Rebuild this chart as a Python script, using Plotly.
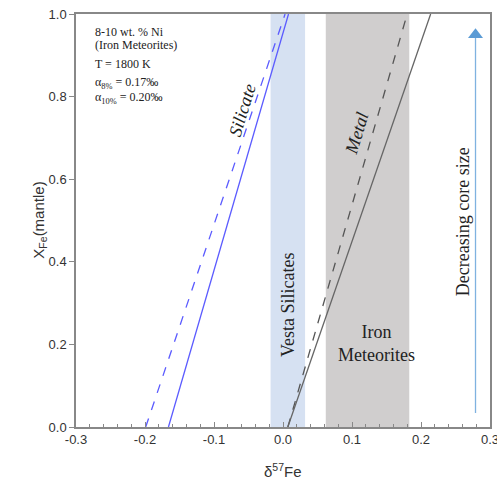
import plotly.graph_objects as go

# Data
y_pts = [0.0, 1.0]
silicate_8 = [-0.199, 0.003]   # dashed blue (x at y=0, y=1)
silicate_10 = [-0.166, 0.008]  # solid blue
metal_8 = [0.007, 0.180]       # dashed dark
metal_10 = [0.007, 0.214]      # solid gray
vesta_band = [-0.018, 0.032]
iron_band = [0.062, 0.183]
arrow_x = [0.279, 0.279]
arrow_y = [0.034, 0.950]
x_ticks = [-0.3, -0.2, -0.1, 0.0, 0.1, 0.2, 0.3]
x_ticklabels = ["-0.3", "-0.2", "-0.1", "0.0", "0.1", "0.2", "0.3"]
y_ticks = [0, 0.2, 0.4, 0.6, 0.8, 1.0]
y_ticklabels = ["0.0", "0.2", "0.4", "0.6", "0.8", "1.0"]
info_lines = ["8-10 wt. % Ni", "(Iron Meteorites)", "T = 1800 K",
              "α<sub>8%</sub> = 0.17‰", "α<sub>10%</sub> = 0.20‰"]
info_y = [0.956, 0.925, 0.879, 0.833, 0.797]

serif = "Liberation Serif, Times New Roman, serif"
sans = "Liberation Sans, Arial, sans-serif"

fig = go.Figure()

# Bands
fig.add_shape(type="rect", xref="x", yref="y", x0=vesta_band[0], x1=vesta_band[1], y0=0, y1=1,
              fillcolor="#d6e1f2", line=dict(width=0), layer="below")
fig.add_shape(type="rect", xref="x", yref="y", x0=iron_band[0], x1=iron_band[1], y0=0, y1=1,
              fillcolor="#d0cece", line=dict(width=0), layer="below")

fig.add_trace(go.Scatter(x=silicate_8, y=y_pts, mode="lines",
                         line=dict(color="#5b5bff", width=1.3, dash="dash"), showlegend=False))
fig.add_trace(go.Scatter(x=silicate_10, y=y_pts, mode="lines",
                         line=dict(color="#5b5bff", width=1.3), showlegend=False))
fig.add_trace(go.Scatter(x=metal_8, y=y_pts, mode="lines",
                         line=dict(color="#555555", width=1.3, dash="dash"), showlegend=False))
fig.add_trace(go.Scatter(x=metal_10, y=y_pts, mode="lines",
                         line=dict(color="#666666", width=1.3), showlegend=False))

# Arrow (line + triangle head)
fig.add_trace(go.Scatter(x=arrow_x, y=arrow_y, mode="lines",
                         line=dict(color="#7fb2e0", width=1.3), showlegend=False))
fig.add_trace(go.Scatter(x=[arrow_x[1]], y=[arrow_y[1]], mode="markers",
                         marker=dict(symbol="triangle-up", size=13, color="#5b9bd5"),
                         showlegend=False))

ann = [
    dict(x=0.261, y=0.496, text="Decreasing core size", textangle=-90),
    dict(x=0.007, y=0.295, text="Vesta Silicates", textangle=-90),
    dict(x=0.136, y=0.203, text="Iron<br>Meteorites", textangle=0),
    dict(x=-0.059, y=0.768, text="<i>Silicate</i>", textangle=-73),
    dict(x=0.107, y=0.712, text="<i>Metal</i>", textangle=-73),
]
for a in ann:
    fig.add_annotation(x=a["x"], y=a["y"], xref="x", yref="y", text=a["text"],
                       textangle=a["textangle"], showarrow=False,
                       xanchor="center", yanchor="middle",
                       font=dict(family=serif, size=18, color="#222222"))

for t, yy in zip(info_lines, info_y):
    fig.add_annotation(x=-0.275, y=yy, xref="x", yref="y", xanchor="left", yanchor="middle",
                       text=t, showarrow=False, align="left",
                       font=dict(family=serif, size=12, color="#222222"))

# Axis titles
fig.add_annotation(x=-0.089, y=0.5, xref="paper", yref="paper", text="X<sub>Fe</sub>(mantle)",
                   textangle=-90, showarrow=False, xanchor="center", yanchor="middle",
                   font=dict(family=sans, size=15, color="#333333"))
fig.add_annotation(x=0.5, y=-0.1065, xref="paper", yref="paper", text="δ<sup>57</sup>Fe",
                   showarrow=False, xanchor="center", yanchor="middle",
                   font=dict(family=sans, size=15, color="#333333"))

fig.update_layout(
    width=497, height=483,
    margin=dict(l=76, r=7, t=14, b=56),
    plot_bgcolor="white", paper_bgcolor="white",
    xaxis=dict(range=[-0.3, 0.3], tickvals=x_ticks, ticktext=x_ticklabels, automargin=False,
               ticks="inside", ticklen=5, tickcolor="#888888", tickwidth=1,
               minor=dict(dtick=0.02, ticks="inside", ticklen=3, tickcolor="#888888"),
               showline=True, linecolor="#888888", linewidth=1.5, mirror=True,
               showgrid=False, zeroline=False, ticklabeloverflow="allow",
               tickfont=dict(family=sans, size=13, color="#333333")),
    yaxis=dict(range=[0, 1], tickvals=y_ticks, ticktext=y_ticklabels, automargin=False,
               ticks="outside", ticklen=5, tickcolor="#888888",
               showline=True, linecolor="#888888", linewidth=1.5, mirror=True,
               showgrid=False, zeroline=False, ticklabeloverflow="allow",
               tickfont=dict(family=sans, size=13, color="#333333")),
)

fig.write_html("out.html", config={"displayModeBar": False},
               post_script="document.body.style.margin='0px';document.body.style.overflow='hidden';")
